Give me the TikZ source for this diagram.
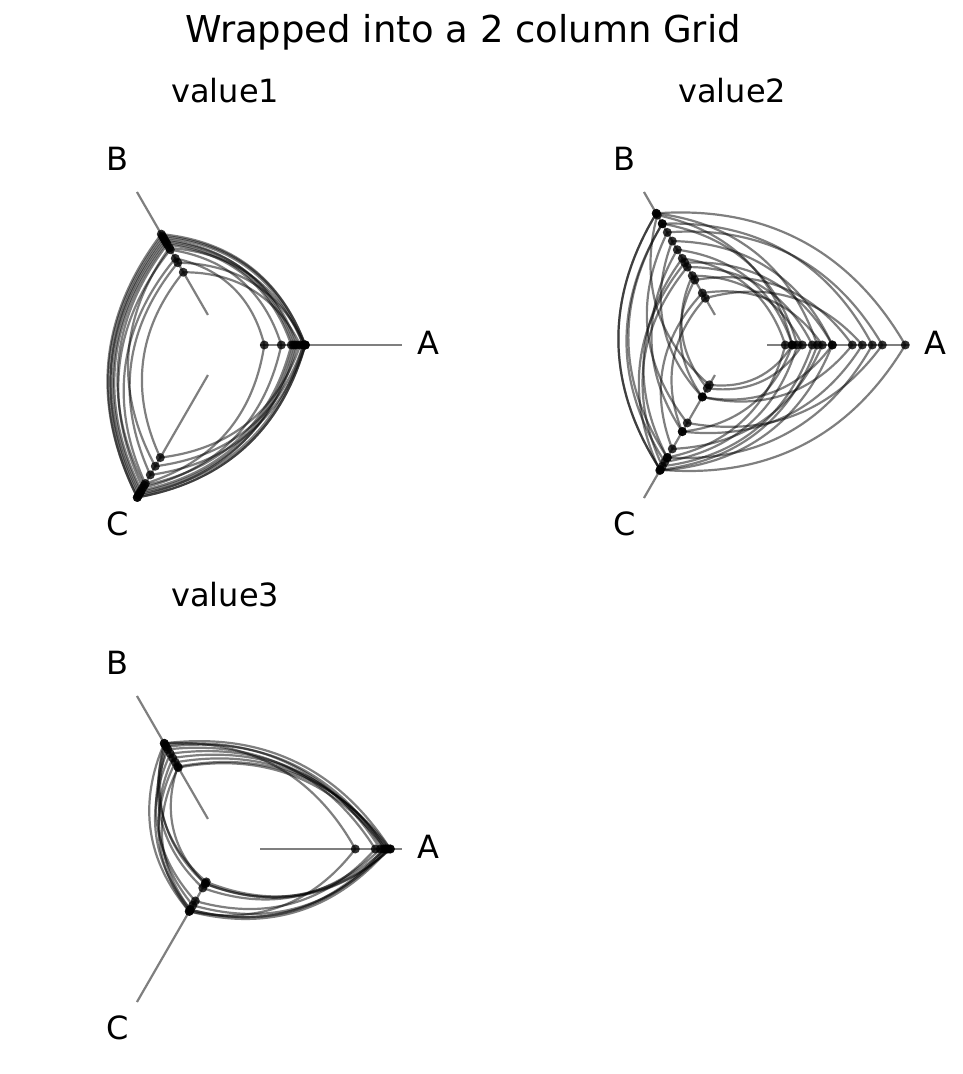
\documentclass[tikz,border=0pt]{standalone}
\usepackage{fontspec}
\setmainfont{DejaVu Sans}
\begin{document}
\begin{tikzpicture}[x=1pt,y=1pt,
  axisline/.style={draw=black,opacity=0.5,line width=2.2pt},
  curve/.style={draw=black,opacity=0.5,line width=2.2pt},
  pt/.style={fill=black,opacity=0.8},
  lab/.style={font=\fontsize{32}{32}\selectfont},
  ttl/.style={font=\fontsize{32}{32}\selectfont}]
\useasboundingbox (0,0) rectangle (962,1074);
\newcommand{\rr}{34.7}\newcommand{\RR}{176.7}
\newcommand{\axes}{%
  \foreach \a in {0,120,240} \draw[axisline] (\a:\rr) -- (\a:\RR);
  \node[lab] (la) at (26+\RR,2) {A};
  \node[lab] (lb) at (-108,186) {B};
  \node[lab] (lc) at (-108,-179) {C};}
\newcommand{\ser}[3]{%
  \draw[curve] (0:#1) to[bend right=32] (120:#2) to[bend right=32] (240:#3) to[bend right=32] (0:#1);
  \fill[pt] (0:#1) circle (4.5); \fill[pt] (120:#2) circle (4.5); \fill[pt] (240:#3) circle (4.5);}
\node[font=\fontsize{37}{37}\selectfont] (title) at (463,1042) {Wrapped into a 2 column Grid};
\begin{scope}[shift={(225.3,729)}]
  \node[ttl] (t1) at (0,254) {value1};
  \axes
  \foreach \a/\b/\c in {80/126/176,78/124/172,72/120/170,68/118/168,56/110/165,39/100/160,80/95/150,75/84/130,78/112/140,70/122/174,66/116/162,80/128/176}{\ser{\a}{\b}{\c}}
\end{scope}
\begin{scope}[shift={(732.3,729)}]
  \node[ttl] (t2) at (0,254) {value2};
  \axes
  \foreach \a/\b/\c in {173/152/144,140/140/130,130/54/100,100/120/60,80/90/140,53/100/130,60/150/46,70/80/50,90/60/120,150/130/90,85/152/144,60/110/100,120/75/60,65/140/135,100/95/145}{\ser{\a}{\b}{\c}}
\end{scope}
\begin{scope}[shift={(225.3,225)}]
  \node[ttl] (t3) at (0,254) {value3};
  \axes
  \foreach \a/\b/\c in {165/122/38,160/118/40,158/110/70,163/100/72,150/115/60,130/122/72,165/95/40,162/105/65,155/120/45,160/94/70}{\ser{\a}{\b}{\c}}
\end{scope}
\end{tikzpicture}
\end{document}
